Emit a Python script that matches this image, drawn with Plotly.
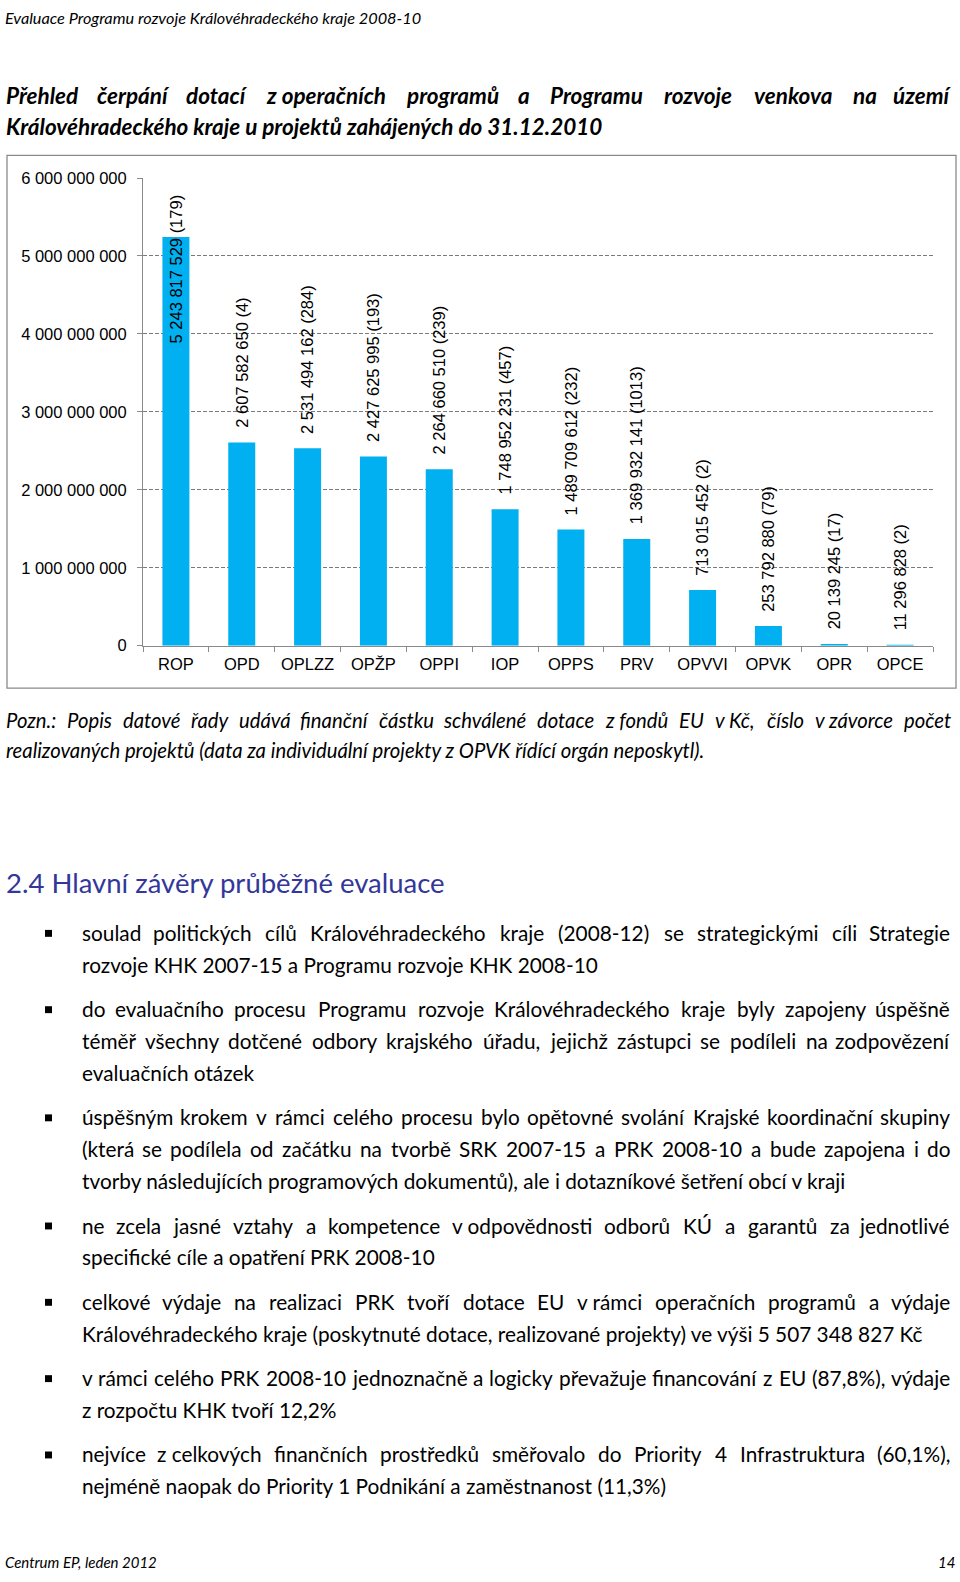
import unicodedata
import plotly.graph_objects as go

W, H = 960, 1582

# ---------------- data ----------------
programs = ["ROP", "OPD", "OPLZZ", "OPŽP", "OPPI", "IOP", "OPPS", "PRV",
            "OPVVI", "OPVK", "OPR", "OPCE"]
amounts = [5243817529, 2607582650, 2531494162, 2427625995, 2264660510,
           1748952231, 1489709612, 1369932141, 713015452, 253792880,
           20139245, 11296828]
projects = [179, 4, 284, 193, 239, 457, 232, 1013, 2, 79, 17, 2]
y_ticks = [0, 1000000000, 2000000000, 3000000000, 4000000000,
           5000000000, 6000000000]

header_text = "Evaluace Programu rozvoje Královéhradeckého kraje 2008-10"
title_lines = ["Přehled čerpání dotací z~operačních programů a Programu rozvoje venkova na území",
               "Královéhradeckého kraje  u projektů zahájených do 31.12.2010"]
note_lines = ["Pozn.: Popis datové řady udává finanční částku schválené dotace z~fondů EU v~Kč, číslo v~závorce počet",
              "realizovaných projektů (data za individuální projekty z OPVK řídící orgán neposkytl)."]
heading_text = "2.4 Hlavní závěry průběžné evaluace"
bullets = [
    ["soulad politických cílů Královéhradeckého kraje (2008-12) se strategickými cíli Strategie",
     "rozvoje KHK 2007-15 a Programu rozvoje KHK  2008-10"],
    ["do evaluačního procesu Programu rozvoje Královéhradeckého kraje byly zapojeny úspěšně",
     "téměř všechny dotčené odbory krajského úřadu, jejichž zástupci se podíleli na zodpovězení",
     "evaluačních otázek"],
    ["úspěšným krokem v rámci celého procesu bylo opětovné svolání Krajské koordinační skupiny",
     "(která se podílela od začátku na tvorbě SRK 2007-15 a PRK 2008-10 a bude zapojena i do",
     "tvorby následujících programových dokumentů), ale i dotazníkové šetření obcí v kraji"],
    ["ne zcela jasné vztahy a kompetence v~odpovědnosti odborů KÚ a garantů za jednotlivé",
     "specifické cíle a opatření PRK 2008-10"],
    ["celkové výdaje na realizaci PRK tvoří dotace EU v~rámci operačních programů a výdaje",
     "Královéhradeckého kraje (poskytnuté dotace, realizované projekty) ve výši 5 507 348 827 Kč"],
    ["v rámci celého PRK 2008-10 jednoznačně a logicky převažuje financování z EU (87,8%), výdaje",
     "z rozpočtu KHK tvoří 12,2%"],
    ["nejvíce z~celkových finančních prostředků směřovalo do Priority 4 Infrastruktura (60,1%),",
     "nejméně naopak do Priority 1 Podnikání a zaměstnanost (11,3%)"],
]
footer_left = "Centrum EP, leden 2012"
footer_right = "14"

# ---------------- helpers ----------------
LATO = {'a': .49, 'b': .56, 'c': .46, 'd': .56, 'e': .51, 'f': .32, 'g': .50, 'h': .56,
        'i': .24, 'j': .24, 'k': .50, 'l': .24, 'm': .83, 'n': .56, 'o': .55, 'p': .55,
        'q': .56, 'r': .37, 's': .42, 't': .35, 'u': .56, 'v': .51, 'w': .77, 'x': .49,
        'y': .51, 'z': .44,
        'A': .68, 'B': .63, 'C': .66, 'D': .73, 'E': .55, 'F': .53, 'G': .71, 'H': .74,
        'I': .27, 'J': .39, 'K': .66, 'L': .49, 'M': .89, 'N': .74, 'O': .78, 'P': .60,
        'Q': .78, 'R': .63, 'S': .52, 'T': .58, 'U': .71, 'V': .68, 'W': 1.0, 'X': .66,
        'Y': .63, 'Z': .61,
        '.': .21, ',': .21, ':': .23, '(': .30, ')': .30, '-': .35, '%': .77, ' ': .26}
ARIAL = {' ': .278, '(': .333, ')': .333}
STYLE_K = {("normal", "normal"): 1.0, ("italic", "normal"): 0.95,
           ("italic", "bold"): 0.97, ("normal", "bold"): 1.05}


def em_width(s, table, default=.58):
    tot = 0.0
    for ch in s:
        base = unicodedata.normalize('NFD', ch)[0]
        tot += table.get(base, default)
    return tot


def px2x(px):
    return px / W


def py2y(py):
    return 1 - py / H


annotations = []
shapes = []


def add_text(txt, x, y, size, anchor="left", style="normal", weight="normal",
             color="black", family="Lato"):
    annotations.append(dict(
        text=txt, x=px2x(x), y=py2y(y), xref="paper", yref="paper",
        xanchor=anchor, yanchor="middle", showarrow=False, borderpad=0,
        font=dict(family=family, size=size, color=color, style=style, weight=weight)))


def justify(line, x0, x1, y, size, style="normal", weight="normal", color="black"):
    words = [w.replace("~", " ") for w in line.split(" ") if w]
    k = STYLE_K[(style, weight)]
    widths = [em_width(w, LATO) * size * k for w in words]
    n = len(words)
    gap = (x1 - x0 - sum(widths)) / (n - 1)
    x = x0
    for i, (w, wd) in enumerate(zip(words, widths)):
        if i == 0:
            add_text(w, x0, y, size, "left", style, weight, color)
        elif i == n - 1:
            add_text(w, x1, y, size, "right", style, weight, color)
        else:
            add_text(w, x + wd / 2, y, size, "center", style, weight, color)
        x += wd + gap


def plain(line, x0, y, size, style="normal", weight="normal", color="black"):
    add_text(line.replace("~", " ").replace("  ", " "), x0, y, size, "left",
             style, weight, color)


LEFT = 5

# header / title
plain(header_text, 4, 9, 16.3, "italic")
justify(title_lines[0], LEFT, 953, 87, 22.5, "italic", "bold")
plain(title_lines[1], LEFT, 119, 22.5, "italic", "bold")

# note
justify(note_lines[0], LEFT, 952, 719, 20.3, "italic")
plain(note_lines[1], LEFT, 750, 20.3, "italic")

# heading
add_text(heading_text, LEFT, 884, 27.5, "left", color="#33379A")

# bullets
BODY = 20.8
TX0, TX1 = 81, 951
y = 934
for para in bullets:
    shapes.append(dict(type="rect", xref="paper", yref="paper",
                       x0=px2x(45), x1=px2x(52), y0=py2y(y - 2.5), y1=py2y(y + 4.5),
                       fillcolor="black", line=dict(width=0)))
    for j, line in enumerate(para):
        if j < len(para) - 1:
            justify(line, TX0, TX1, y, BODY)
            y += 32.2
        else:
            plain(line, TX0, y, BODY)
    y += 45

# footer
add_text(footer_left, 4, 1571, 15, "left", "italic")
add_text(footer_right, 956, 1571, 15, "right", "italic")

# ---------------- chart ----------------
PX_L, PX_R, PX_T, PX_B = 143, 933, 171, 644
YMAX = y_ticks[-1]
LABEL_GAP = 12.5
LABEL_SIZE = 16.5
LABEL_TOP_LIMIT = 185

fig = go.Figure()
fig.add_trace(go.Bar(x=programs, y=amounts, marker=dict(color="#00B0F0", line=dict(width=0)),
                     hoverinfo="skip"))


def fmt(v):
    return f"{v:,}".replace(",", " ")


for prog, amt, cnt in zip(programs, amounts, projects):
    label = f"{fmt(amt)} ({cnt})"
    length = em_width(label, ARIAL, .556) * LABEL_SIZE
    top_px = PX_B - amt / YMAX * (PX_B - PX_T)
    ann = dict(x=prog, y=amt, xref="x", yref="y", text=label, textangle=-90,
               showarrow=False, xanchor="center", yanchor="bottom", yshift=LABEL_GAP,
               font=dict(family="Liberation Sans, Arial", size=LABEL_SIZE, color="black"))
    if top_px - LABEL_GAP - length < LABEL_TOP_LIMIT:
        ann.update(y=YMAX, yanchor="top", yshift=-(LABEL_TOP_LIMIT - PX_T))
    annotations.append(ann)

# chart border
shapes.append(dict(type="rect", xref="paper", yref="paper",
                   x0=px2x(7), x1=px2x(956), y0=py2y(687), y1=py2y(148),
                   line=dict(color="#8a8a8a", width=1.3), fillcolor="rgba(0,0,0,0)",
                   layer="below"))

axis_font = dict(family="Liberation Sans, Arial", size=16.5, color="black")
fig.update_layout(
    width=W, height=H, autosize=False,
    margin=dict(l=0, r=0, t=0, b=0, pad=0),
    paper_bgcolor="white", plot_bgcolor="white",
    showlegend=False, bargap=0.59,
    xaxis=dict(domain=[px2x(PX_L), px2x(PX_R)], type="category",
               showline=True, linecolor="#8a8a8a", linewidth=1,
               ticks="outside", tickson="boundaries", ticklen=5, tickcolor="#8a8a8a",
               showgrid=False, tickfont=axis_font, ticklabelstandoff=4),
    yaxis=dict(domain=[py2y(PX_B), py2y(PX_T)], range=[0, YMAX],
               tickvals=y_ticks, ticktext=[fmt(v) for v in y_ticks],
               showline=True, linecolor="#8a8a8a", linewidth=1,
               ticks="outside", ticklen=5, tickcolor="#8a8a8a",
               showgrid=True, gridcolor="#7a7a7a", gridwidth=1, griddash="4px,2px",
               zeroline=False, tickfont=axis_font, ticklabelstandoff=7),
    annotations=annotations, shapes=shapes,
)

fig.write_html(
    "out.html",
    config={"displayModeBar": False, "staticPlot": True},
    post_script=("document.documentElement.style.margin='0';"
                 "document.body.style.margin='0';document.body.style.padding='0';"
                 "document.body.style.overflow='hidden';"),
)
